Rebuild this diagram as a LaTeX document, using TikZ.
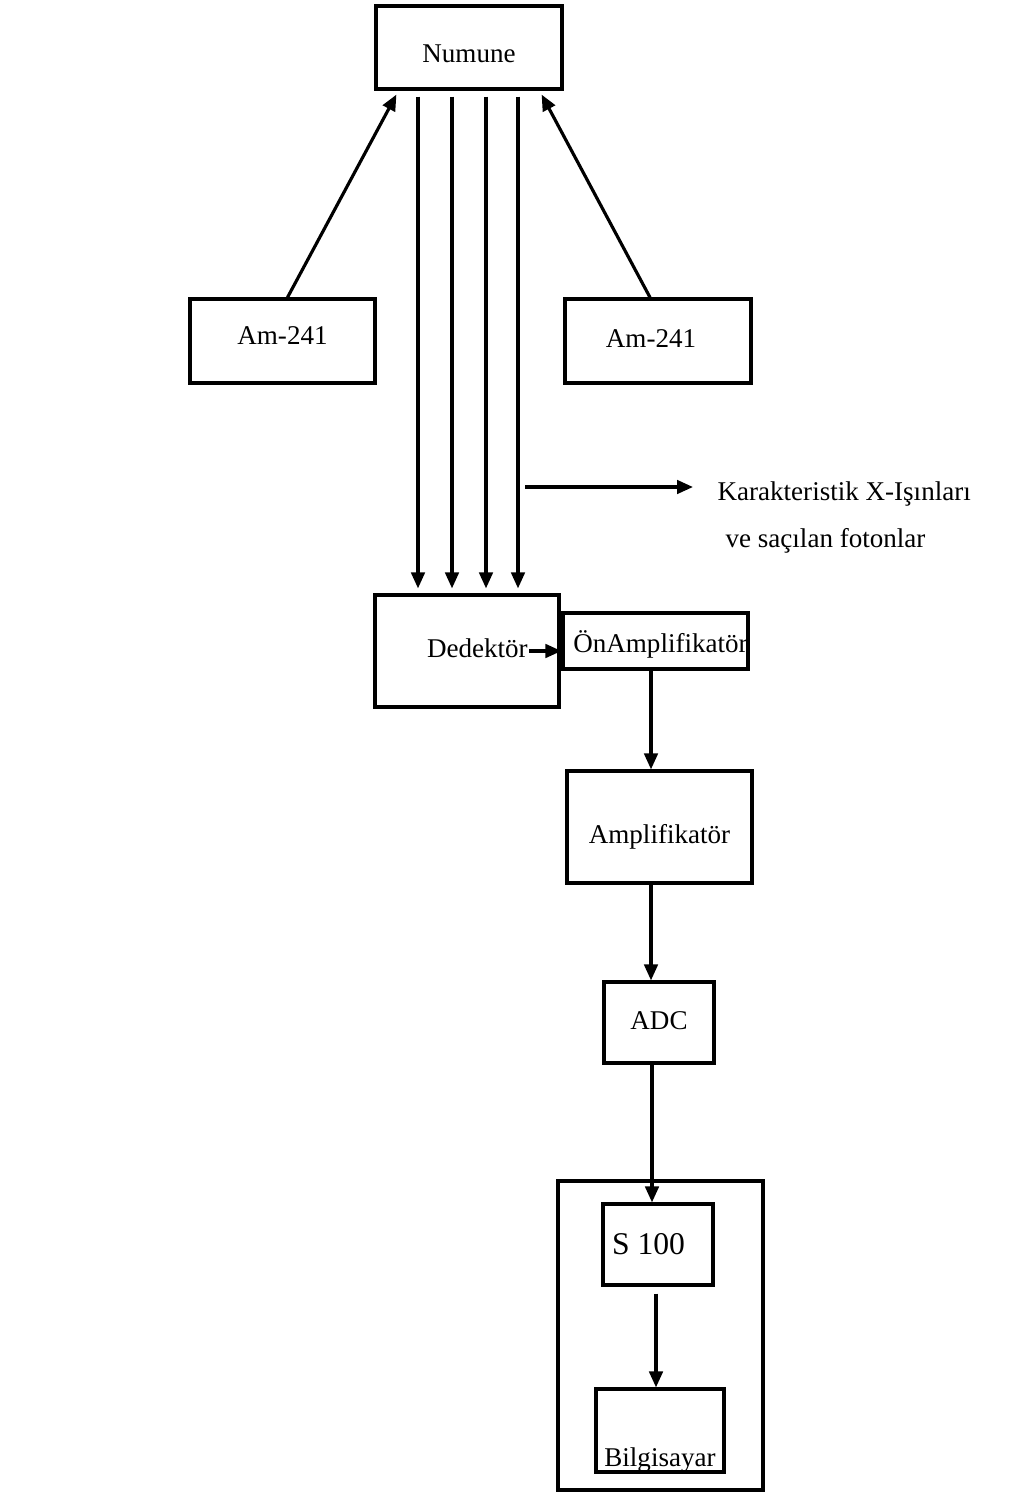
\documentclass[tikz,border=0pt]{standalone}
\usepackage{fontspec}
\setmainfont{Liberation Serif}
\usetikzlibrary{arrows.meta}
\newcommand{\indir}[2]{\raisebox{-#1}[0pt][0pt]{#2}}
\begin{document}
\begin{tikzpicture}[>={Triangle[length=0.32cm,width=0.27cm]}, line width=1.8pt,
	font=\fontsize{15.4}{18}\selectfont,
	kutu/.style={draw, rectangle, inner sep=0pt},
	yazi/.style={inner sep=0pt, anchor=west}]
	\def\hY{-9.74}
	
	% Sinir
	\useasboundingbox (0,0) rectangle (20.18,-29.88);
	
	% Numune ve kaynaklar
	\node[kutu, minimum width=3.72cm, minimum height=1.66cm] (numune) at (9.38,-0.95) {\indir{0.31cm}{Numune}};
	\node[kutu, minimum width=3.7cm, minimum height=1.68cm] (amSol) at (5.65,-6.82) {\indir{0.06cm}{Am-241}};
	\node[kutu, minimum width=3.72cm, minimum height=1.68cm] (amSag) at (13.16,-6.82) {\hspace{-0.28cm}\indir{0.12cm}{Am-241}};
	\draw[->] ([xshift=0.1cm]amSol.north) -- ([xshift=0.44cm,yshift=-0.08cm]numune.south west);
	\draw[->] ([xshift=-0.16cm]amSag.north) -- ([xshift=-0.44cm,yshift=-0.08cm]numune.south east);
	
	% Dedektor
	\node[kutu, minimum width=3.68cm, minimum height=2.24cm,
	label={[name=dedYazi, yazi]west:\hspace{1.04cm}\indir{0.12cm}{Dedektör}}] (dedektor) at (9.34,-13.02) {};
	
	% Numuneden dedektore isinlar
	\foreach \dx in {-1.02,-0.34,0.34,0.98}{
		\draw[->, shorten <=0.12cm, shorten >=0.1cm]
		([xshift=\dx cm]numune.south) -- ([xshift=\dx cm]numune.south |- dedektor.north);
	}
	
	% Karakteristik X-Isinlari
	\coordinate (xBas) at (10.5,\hY);
	\node[yazi] (kar1) at (14.32,-9.88) {Karakteristik X-Işınları};
	\node[yazi] (kar2) at (14.48,-10.82) {ve saçılan fotonlar};
	\draw[->, shorten >=0.46cm] (xBas) -- (xBas -| kar1.west);
	
	% Elektronik zincir
	\node[kutu, minimum width=3.7cm, minimum height=1.12cm] (onAmp) at (13.11,-12.82) {\hspace{0.2cm}\indir{0.22cm}{ÖnAmplifikatör}};
	\draw[->] (dedYazi.east) -- (dedYazi.east -| onAmp.west);
	\node[kutu, minimum width=3.7cm, minimum height=2.24cm] (amp) at (13.19,-16.54) {\indir{0.32cm}{Amplifikatör}};
	\node[kutu, minimum width=2.2cm, minimum height=1.62cm] (adc) at (13.18,-20.45) {\indir{0.13cm}{ADC}};
	\draw[->] ([xshift=-0.09cm]onAmp.south) -- ([xshift=-0.09cm]onAmp.south |- amp.north);
	\draw[->] ([xshift=-0.17cm]amp.south) -- ([xshift=-0.17cm]amp.south |- adc.north);
	
	% Bilgisayar sistemi
	\node[kutu, minimum width=4.1cm, minimum height=6.18cm] (pc) at (13.21,-26.71) {};
	\node[kutu, minimum width=2.2cm, minimum height=1.62cm,
	label={[yazi, font=\fontsize{18}{21}\selectfont]west:\hspace{0.18cm}\indir{0.19cm}{S 100}}] (s100) at (13.16,-24.89) {};
	\node[kutu, minimum width=2.56cm, minimum height=1.66cm,
	label={[inner sep=0pt, anchor=base, yshift=0.14cm]south:Bilgisayar}] (bilg) at (13.2,-28.61) {};
	\draw[->] ([xshift=-0.14cm]adc.south) -- ([xshift=-0.14cm]adc.south |- s100.north);
	\draw[->, shorten <=0.14cm] ([xshift=-0.04cm]s100.south) -- ([xshift=-0.04cm]s100.south |- bilg.north);
	
\end{tikzpicture}
\end{document}
